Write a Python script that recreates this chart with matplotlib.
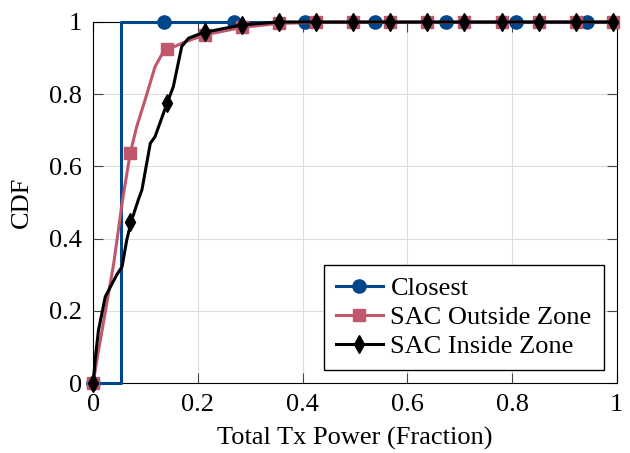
import numpy as np
import matplotlib
matplotlib.use("Agg")
import matplotlib.pyplot as plt
from matplotlib.lines import Line2D

plt.rcParams['font.family'] = ['Liberation Serif', 'DejaVu Serif']

# Closest (step at ~0.053)
closest_x = [0.0, 0.053, 0.053, 1.0]
closest_y = [0.0, 0.0, 1.0, 1.0]
closest_mx = [0.0, 0.135, 0.269, 0.404, 0.539, 0.673, 0.808, 0.943]
closest_my = [0.0, 1.0, 1.0, 1.0, 1.0, 1.0, 1.0, 1.0]

# SAC Outside Zone
out_x = [0.0, 0.007, 0.039, 0.056, 0.0706, 0.083, 0.099, 0.118, 0.134, 0.1425,
         0.176, 0.212, 0.284, 0.354, 0.426, 1.0]
out_y = [0.0, 0.064, 0.33, 0.507, 0.636, 0.71, 0.784, 0.876, 0.918, 0.924,
         0.945, 0.964, 0.985, 0.996, 0.999, 1.0]
out_mx = [0.0, 0.0709, 0.1418, 0.2127, 0.2836, 0.3545, 0.4254, 0.4963, 0.5672,
          0.6381, 0.709, 0.7799, 0.8508, 0.9217, 0.9926]
out_my = [0.0, 0.636, 0.924, 0.964, 0.985, 0.996, 0.999, 1.0, 1.0,
          1.0, 1.0, 1.0, 1.0, 1.0, 1.0]

# SAC Inside Zone
in_x = [0.0, 0.004, 0.01, 0.023, 0.045, 0.055, 0.064, 0.0725, 0.086, 0.093,
        0.109, 0.118, 0.141, 0.153, 0.169, 0.182, 0.207, 0.212, 0.284, 0.354, 1.0]
in_y = [0.0, 0.07, 0.146, 0.239, 0.30, 0.322, 0.396, 0.447, 0.507, 0.535,
        0.664, 0.682, 0.775, 0.821, 0.932, 0.955, 0.969, 0.971, 0.992, 1.0, 1.0]
in_mx = out_mx
in_my = [0.0, 0.447, 0.775, 0.971, 0.992, 1.0, 1.0, 1.0, 1.0,
         1.0, 1.0, 1.0, 1.0, 1.0, 1.0]

blue = '#00468b'
red = '#c0576a'
black = 'black'
fs = 19

fig = plt.figure(figsize=(6.3, 4.53), dpi=100)
ax = fig.add_axes([0.148, 0.1545, 0.831, 0.797])

ax.plot(closest_x, closest_y, color=blue, lw=2.2, zorder=3, clip_on=False)
ax.plot(closest_mx, closest_my, ls='none', marker='o', ms=9.5, color=blue,
        zorder=3, clip_on=False)
ax.plot(out_x, out_y, color=red, lw=2.2, zorder=4, clip_on=False)
ax.plot(out_mx, out_my, ls='none', marker='s', ms=8.5, color=red,
        zorder=4, clip_on=False)
ax.plot(in_x, in_y, color=black, lw=2.2, zorder=5, clip_on=False)
ax.plot(in_mx, in_my, ls='none', marker='d', ms=9, color=black,
        zorder=5, clip_on=False)

ax.set_xlim(0, 1)
ax.set_ylim(0, 1)
ticks = [0, 0.2, 0.4, 0.6, 0.8, 1]
labels = ['0', '0.2', '0.4', '0.6', '0.8', '1']
ax.set_xticks(ticks)
ax.set_xticklabels(labels)
ax.set_yticks(ticks)
ax.set_yticklabels(labels)
ax.tick_params(direction='in', top=True, right=True, labelsize=fs, length=7,
               width=0.8, color='#444444')
ax.tick_params(axis='x', pad=8)
ax.tick_params(axis='y', pad=8)
ax.grid(True, color='#dddddd', lw=0.8)
ax.set_axisbelow(True)
ax.set_xlabel('Total Tx Power (Fraction)', fontsize=fs, labelpad=8)
ax.set_ylabel('CDF', fontsize=fs, labelpad=12)

handles = [
    Line2D([], [], color=blue, lw=2.2, marker='o', ms=9.5),
    Line2D([], [], color=red, lw=2.2, marker='s', ms=8.5),
    Line2D([], [], color=black, lw=2.2, marker='d', ms=9),
]
leg = ax.legend(handles, ['Closest', 'SAC Outside Zone', 'SAC Inside Zone'],
                loc='lower right', fontsize=fs, fancybox=False, framealpha=1,
                edgecolor='black', borderaxespad=0.5, handlelength=1.75,
                labelspacing=0.2, borderpad=0.45, handletextpad=0.3)
leg.get_frame().set_linewidth(1.0)
leg.set_zorder(10)

fig.savefig('out.png', dpi=100)
